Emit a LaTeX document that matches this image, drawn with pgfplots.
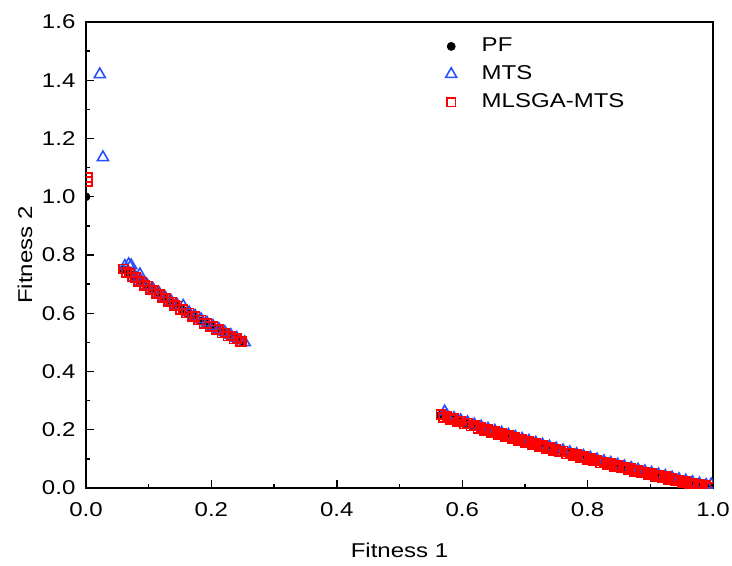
\documentclass[border=0pt]{standalone}
\usepackage{fontspec}
\setmainfont{Liberation Sans}[FakeStretch=1.2]
\usepackage{pgfplots}
\usepackage{pgfplotstable}
\pgfplotsset{compat=1.18}
\definecolor{mtsblue}{RGB}{40,80,255}
\definecolor{mlsred}{RGB}{255,0,0}

\pgfplotstableread{
x y
0.0 1.0
0.06 0.75
0.0695 0.7347
0.079 0.7196
0.0885 0.7049
0.098 0.6904
0.1075 0.6763
0.117 0.6624
0.1265 0.6489
0.136 0.6356
0.1455 0.6227
0.155 0.61
0.1645 0.5977
0.174 0.5856
0.1835 0.5739
0.193 0.5624
0.2025 0.5513
0.212 0.5404
0.2215 0.5299
0.231 0.5196
0.2405 0.5097
0.25 0.50
0.565 0.250
0.5759 0.2424
0.5868 0.2349
0.5976 0.2274
0.6085 0.2201
0.6194 0.2127
0.6303 0.2055
0.6411 0.1983
0.6520 0.1912
0.6629 0.1842
0.6738 0.1772
0.6846 0.1703
0.6955 0.1635
0.7064 0.1567
0.7173 0.1500
0.7281 0.1434
0.7390 0.1368
0.7499 0.1303
0.7608 0.1239
0.7716 0.1175
0.7825 0.1113
0.7934 0.1050
0.8043 0.0989
0.8151 0.0928
0.8260 0.0868
0.8369 0.0809
0.8478 0.0750
0.8586 0.0692
0.8695 0.0635
0.8804 0.0578
0.8913 0.0522
0.9021 0.0467
0.9130 0.0412
0.9239 0.0358
0.9348 0.0305
0.9456 0.0252
0.9565 0.0201
0.9674 0.0149
0.9783 0.0099
0.9891 0.0049
1.0 0.0
}\pftable

\pgfplotstableread{
x y
0.022 1.42
0.027 1.135
0.062 0.762
0.068 0.768
0.072 0.764
0.079 0.7246
0.086 0.733
0.0885 0.7099
0.098 0.6954
0.1075 0.6813
0.117 0.6674
0.1265 0.6539
0.136 0.6406
0.1455 0.6277
0.155 0.625
0.1645 0.6027
0.174 0.5906
0.1835 0.5789
0.193 0.5674
0.2025 0.5563
0.212 0.5454
0.2215 0.5349
0.231 0.5246
0.2405 0.5147
0.253 0.500
0.572 0.262
0.5759 0.2474
0.5868 0.2399
0.5976 0.2324
0.6085 0.2251
0.6194 0.2177
0.6303 0.2105
0.6411 0.2033
0.6520 0.1962
0.6629 0.1892
0.6738 0.1822
0.6846 0.1753
0.6955 0.1685
0.7064 0.1617
0.7173 0.1550
0.7281 0.1484
0.7390 0.1418
0.7499 0.1353
0.7608 0.1289
0.7716 0.1225
0.7825 0.1163
0.7934 0.1100
0.8043 0.1039
0.8151 0.0978
0.8260 0.0918
0.8369 0.0859
0.8478 0.0800
0.8586 0.0742
0.8695 0.0685
0.8804 0.0628
0.8913 0.0572
0.9021 0.0517
0.9130 0.0462
0.9239 0.0408
0.9348 0.0355
0.9456 0.0302
0.9565 0.0251
0.9674 0.0199
0.9783 0.0149
0.9891 0.0099
0.997 0.012
}\mtstable

\pgfplotstableread{
x y
0.003 1.053
0.003 1.066
0.06 0.752
0.0695 0.7377
0.079 0.7226
0.0885 0.7079
0.098 0.6934
0.1075 0.6793
0.117 0.6654
0.1265 0.6519
0.136 0.6386
0.1455 0.6257
0.155 0.613
0.1645 0.6007
0.174 0.5886
0.1835 0.5769
0.193 0.5654
0.2025 0.5543
0.212 0.5434
0.2215 0.5329
0.231 0.5226
0.2405 0.5127
0.248 0.503
0.06475 0.7393
0.07425 0.7241
0.08375 0.7092
0.09325 0.6946
0.10275 0.6803
0.11225 0.6663
0.12175 0.6526
0.13125 0.6392
0.14075 0.6261
0.15025 0.6133
0.15975 0.6008
0.16925 0.5886
0.17875 0.5767
0.18825 0.5651
0.19775 0.5538
0.20725 0.5428
0.21675 0.5321
0.22625 0.5217
0.23575 0.5116
0.24525 0.5018
0.566 0.252
0.5759 0.2454
0.5868 0.2379
0.5976 0.2304
0.6085 0.2231
0.6194 0.2157
0.6303 0.2085
0.6411 0.2013
0.6520 0.1942
0.6629 0.1872
0.6738 0.1802
0.6846 0.1733
0.6955 0.1665
0.7064 0.1597
0.7173 0.1530
0.7281 0.1464
0.7390 0.1398
0.7499 0.1333
0.7608 0.1269
0.7716 0.1205
0.7825 0.1143
0.7934 0.1080
0.8043 0.1019
0.8151 0.0958
0.8260 0.0898
0.8369 0.0839
0.8478 0.0780
0.8586 0.0722
0.8695 0.0665
0.8804 0.0608
0.8913 0.0552
0.9021 0.0497
0.9130 0.0442
0.9239 0.0388
0.9348 0.0335
0.9456 0.0282
0.9565 0.0231
0.9674 0.0179
0.9783 0.0129
0.9891 0.0079
0.997 0.004
0.5705 0.2422
0.5814 0.2347
0.5922 0.2272
0.6031 0.2198
0.6140 0.2124
0.6249 0.2051
0.6357 0.1979
0.6466 0.1908
0.6575 0.1837
0.6684 0.1767
0.6792 0.1698
0.6901 0.1629
0.7010 0.1561
0.7119 0.1494
0.7227 0.1427
0.7336 0.1361
0.7445 0.1296
0.7554 0.1231
0.7662 0.1167
0.7771 0.1104
0.7880 0.1042
0.7989 0.0980
0.8097 0.0919
0.8206 0.0858
0.8315 0.0799
0.8424 0.0740
0.8532 0.0681
0.8641 0.0624
0.8750 0.0567
0.8859 0.0510
0.8967 0.0455
0.9076 0.0400
0.9185 0.0345
0.9294 0.0292
0.9402 0.0239
0.9511 0.0187
0.9620 0.0135
0.9729 0.0084
0.9837 0.0034
0.9946 0.0010
}\mlstable

\begin{document}
\begin{tikzpicture}
\path[use as bounding box] (-43bp,-39bp) rectangle (323bp,244bp);
\begin{axis}[
  at={(0,0)}, anchor=south west,
  scale only axis,
  width=313.5bp, height=233bp,
  xmin=0, xmax=1, ymin=0, ymax=1.6,
  xtick={0,0.2,...,1.0}, ytick={0,0.2,...,1.6},
  minor tick num=1,
  tick pos=left, tick align=inside,
  major tick length=4bp, minor tick length=2.2bp,
  every tick/.style={black, line width=0.7bp},
  axis line style={line width=0.8bp},
  font=\fontsize{10bp}{12bp}\selectfont,
  /pgf/number format/assume math mode=true,
  /pgf/number format/fixed,
  /pgf/number format/fixed zerofill,
  /pgf/number format/precision=1,
  xticklabel style={yshift=-3.5bp},
  yticklabel style={xshift=-1.8bp},
  xlabel={Fitness 1}, ylabel={Fitness 2},
  xlabel style={at={(axis description cs:0.5,-0.133)}, anchor=center},
  ylabel style={at={(axis description cs:-0.0975,0.5)}, anchor=center},
  clip marker paths=true,
  legend style={draw=none, fill=none, inner sep=0pt, at={(rel axis cs:0.573,0.975)}, anchor=north west,
    font=\fontsize{10bp}{12bp}\selectfont, row sep=1.5bp,
    /tikz/every odd column/.append style={column sep=10.5bp}},
  legend cell align=left,
]
\addplot[only marks, mark=*, mark size=2bp, black] table[x=x,y=y] {\pftable};
\addlegendentry{PF}
\addplot[only marks, mark=triangle, mark size=3.2bp, mtsblue, mark options={line width=0.8bp}] table[x=x,y=y] {\mtstable};
\addlegendentry{MTS}
\addplot[only marks, mark=square, mark size=2.2bp, mlsred, mark options={line width=0.85bp}] table[x=x,y=y] {\mlstable};
\addlegendentry{MLSGA-MTS}
\end{axis}
\end{tikzpicture}
\end{document}
